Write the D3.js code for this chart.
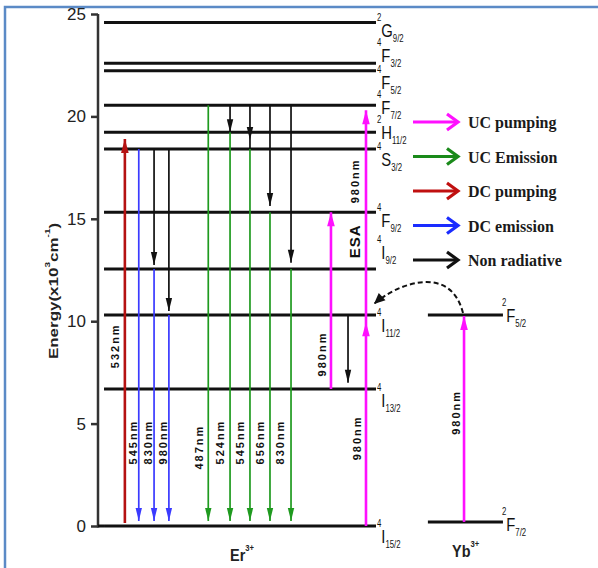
<!DOCTYPE html>
<html>
<head>
<meta charset="utf-8">
<script src="https://cdnjs.cloudflare.com/ajax/libs/d3/7.8.5/d3.min.js"></script>
<style>
  body { margin: 0; background: #fff; }
  svg { display: block; }
</style>
</head>
<body>
<div id="chart"></div>
<script>
// energy levels (x10^3 cm-1)
var erTerms = [["2","G","9/2"],["4","F","3/2"],["4","F","5/2"],["4","F","7/2"],["2","H","11/2"],
               ["4","S","3/2"],["4","F","9/2"],["4","I","9/2"],["4","I","11/2"],["4","I","13/2"],["4","I","15/2"]];
var erEnergy = [24.58, 22.59, 22.23, 20.54, 19.22, 18.41, 15.32, 12.55, 10.30, 6.69, 0];
var ybTerms = [["2","F","5/2"],["2","F","7/2"]];
var ybEnergy = [10.3, 0.2];
var yTicks = [0, 5, 10, 15, 20, 25];

// transitions: [column, from, to, kind, head tip]
var transitions = [
  [2.9, 0.15, 18.9, "dcp"],
  [4.4, 18.41, 0.25, "dce"],
  [6.05, 18.41, 12.75, "nr"],
  [6.05, 12.55, 0.25, "dce"],
  [7.65, 18.41, 10.5, "nr"],
  [7.65, 10.30, 0.25, "dce"],
  [11.9, 20.54, 0.25, "uce"],
  [14.25, 20.54, 19.22, "nr"],
  [14.25, 19.22, 0.25, "uce"],
  [16.4, 20.54, 18.41, "nr", 18.85],
  [16.4, 18.41, 0.25, "uce"],
  [18.56, 20.54, 15.62, "nr"],
  [18.56, 15.32, 0.25, "uce"],
  [20.83, 20.54, 12.85, "nr"],
  [20.83, 12.55, 0.25, "uce"],
  [25.14, 6.69, 15.32, "ucp"],
  [26.98, 10.30, 7.0, "nr"],
  [28.92, 0, 10.3, "ucp", 9.95],
  [28.92, 10.3, 20.3, "ucp"],
  [39.5, 0.2, 10.25, "ucp"]
];

// wavelength labels: [text, column, energy at centre]
var waveLabels = [
  ["532nm", 1.85, 8.8], ["545nm", 3.75, 4.1], ["830nm", 5.4, 4.1], ["980nm", 7.0, 4.1],
  ["487nm", 10.95, 3.85], ["524nm", 13.2, 4.1], ["545nm", 15.35, 4.1], ["656nm", 17.5, 4.1], ["830nm", 19.65, 4.1],
  ["980nm", 24.2, 8.4], ["980nm", 27.95, 4.3], ["980nm", 27.7, 16.85], ["980nm", 38.6, 5.55]
];

var legendNames = ["UC pumping", "UC Emission", "DC pumping", "DC emission", "Non radiative"];
var legendKinds = ["ucp", "uce", "dcp", "dce", "nr"];

var colors = {ucp: "#ff10ff", uce: "#1f9a1f", dcp: "#b51212", dce: "#3a3aff", nr: "#111"};
var legendColors = {ucp: "#ff10ff", uce: "#1a8a1a", dcp: "#c01010", dce: "#1a2cff", nr: "#111"};

// label offsets (px) of the letter top from each level line
var erLabelShift = [0, -15, 4, -5, -7, 3, 1, -24, 3, 4, 3];
var ybLabelShift = [-7, -5];

var W = 598, H = 568;
var svg = d3.select("#chart").append("svg").attr("width", W).attr("height", H);

var y = d3.scaleLinear().domain([0, 25]).range([526, 14]);
var x = d3.scaleLinear().domain([0, 30]).range([98, 376]);

// frame
svg.append("path").attr("d", "M5,568 V7 H598")
  .attr("fill", "none").attr("stroke", "#5b8ac6").attr("stroke-width", 2.5);

// axis
var yAxis = d3.axisLeft(y).tickValues(yTicks).tickSize(7).tickSizeOuter(0).tickPadding(5);
var ag = svg.append("g").attr("transform", "translate(" + x(0) + ",0)").call(yAxis);
ag.select(".domain").attr("stroke", "#333").attr("stroke-width", 2.5)
  .attr("d", "M0," + y(25) + "V" + (y(0) + 1.5));
ag.selectAll(".tick line").attr("stroke", "#333").attr("stroke-width", 2.5);
ag.selectAll(".tick text").attr("font-family", "Arial, 'Liberation Sans', sans-serif")
  .attr("font-size", 17).attr("fill", "#222");

var yl = svg.append("text")
  .attr("transform", "translate(53,291) rotate(-90) scale(1,0.8)")
  .attr("text-anchor", "middle").attr("dominant-baseline", "central")
  .attr("font-family", "Arial, 'Liberation Sans', sans-serif")
  .attr("font-weight", "bold").attr("font-size", 17).attr("fill", "#222");
yl.append("tspan").text("Energy(x10");
yl.append("tspan").attr("font-size", 10).attr("dy", -7).text("3");
yl.append("tspan").attr("dy", 7).text("cm");
yl.append("tspan").attr("font-size", 10).attr("dy", -7).text("-1");
yl.append("tspan").attr("dy", 7).text(")");

// levels
svg.append("line").attr("x1", x(0)).attr("x2", x(0.65)).attr("y1", y(0)).attr("y2", y(0))
  .attr("stroke", "#111").attr("stroke-width", 3);
svg.selectAll(".er").data(erEnergy).join("line")
  .attr("x1", x(0.65)).attr("x2", x(30))
  .attr("y1", function(d) { return y(d); }).attr("y2", function(d) { return y(d); })
  .attr("stroke", "#111").attr("stroke-width", 3);
svg.selectAll(".yb").data(ybEnergy).join("line")
  .attr("x1", x(35.6)).attr("x2", x(43.7))
  .attr("y1", function(d) { return y(d); }).attr("y2", function(d) { return y(d); })
  .attr("stroke", "#111").attr("stroke-width", 3);

function termLabel(px, capTop, t) {
  var tx = svg.append("text")
    .attr("transform", "translate(" + px + "," + capTop + ") scale(0.78,1)")
    .attr("font-family", "Arial, 'Liberation Sans', sans-serif").attr("fill", "#111");
  tx.append("tspan").attr("y", -2).attr("font-size", 10).text(t[0]);
  tx.append("tspan").attr("y", 14).attr("font-size", 19).text(t[1]);
  tx.append("tspan").attr("y", 19).attr("font-size", 10).text(t[2]);
}
erTerms.forEach(function(t, i) { termLabel(x(30) + 1, y(erEnergy[i]) + erLabelShift[i], t); });
ybTerms.forEach(function(t, i) { termLabel(x(43.7) - 1, y(ybEnergy[i]) + ybLabelShift[i], t); });

// arrows
function head(g, cx, tipY, dir, col, hw, len) {
  g.append("path")
    .attr("d", "M" + cx + "," + tipY + "L" + (cx - hw) + "," + (tipY - dir * len) +
               "L" + (cx + hw) + "," + (tipY - dir * len) + "Z")
    .attr("fill", col);
}
transitions.forEach(function(t) {
  var col = colors[t[3]];
  var cx = x(t[0]);
  var big = (t[3] == "ucp" || t[3] == "dcp");
  var sw = big ? 2.6 : 1.7;
  var tipE = t[4] !== undefined ? t[4] : t[2];
  var dir = t[2] < t[1] ? 1 : -1;   // 1 = down
  svg.append("line").attr("x1", cx).attr("x2", cx)
    .attr("y1", y(t[1])).attr("y2", y(t[2]))
    .attr("stroke", col).attr("stroke-width", sw);
  head(svg, cx, y(tipE), dir, col, big ? 3.8 : 3.2, big ? 14 : 13);
});

// energy transfer (dashed)
var p = d3.path();
p.moveTo(x(39.39), y(10.4));
p.bezierCurveTo(x(37.98), y(12.89), x(32.05), y(11.77), x(29.78), y(10.84));
svg.append("path").attr("d", p.toString()).attr("fill", "none")
  .attr("stroke", "#111").attr("stroke-width", 2).attr("stroke-dasharray", "5,3");
(function() {
  var ex = x(29.78), ey = y(10.84);
  var ang = Math.atan2(ey - y(11.77), ex - x(32.05));
  var len = 11, hw = 5;
  var bx = ex - len * Math.cos(ang), by = ey - len * Math.sin(ang);
  var nx = -Math.sin(ang) * hw, ny = Math.cos(ang) * hw;
  svg.append("path").attr("d", "M" + ex + "," + ey + "L" + (bx + nx) + "," + (by + ny) +
                      "L" + (bx - nx) + "," + (by - ny) + "Z").attr("fill", "#111");
})();

// wavelength labels
svg.selectAll(".wl").data(waveLabels).join("text")
  .attr("transform", function(d) { return "translate(" + x(d[1]) + "," + y(d[2]) + ") rotate(-90)"; })
  .attr("text-anchor", "middle").attr("dominant-baseline", "central")
  .attr("font-family", "Arial, 'Liberation Sans', sans-serif")
  .attr("font-weight", "bold").attr("font-size", 11).attr("letter-spacing", 2)
  .attr("fill", "#111").text(function(d) { return d[0]; });

svg.append("text")
  .attr("transform", "translate(" + x(27.7) + "," + y(13.9) + ") rotate(-90)")
  .attr("text-anchor", "middle").attr("dominant-baseline", "central")
  .attr("font-family", "Arial, 'Liberation Sans', sans-serif")
  .attr("font-weight", "bold").attr("font-size", 15).attr("letter-spacing", 1)
  .attr("fill", "#111").text("ESA");

// ion names
function ionLabel(px, py, name) {
  var t = svg.append("text").attr("transform", "translate(" + px + "," + py + ") scale(0.85,1)")
    .attr("font-family", "Arial, 'Liberation Sans', sans-serif").attr("font-weight", "bold")
    .attr("fill", "#222");
  t.append("tspan").attr("font-size", 17).text(name);
  t.append("tspan").attr("font-size", 9).attr("dy", -10).text("3+");
}
ionLabel(230, 561, "Er");
ionLabel(452, 557, "Yb");

// legend
var lg = svg.append("g");
legendNames.forEach(function(name, i) {
  var ly = 122 + i * 34.5;
  var c = legendColors[legendKinds[i]];
  lg.append("line").attr("x1", 413).attr("x2", 457).attr("y1", ly).attr("y2", ly)
    .attr("stroke", c).attr("stroke-width", 3.2);
  lg.append("path").attr("d", "M447," + (ly - 8) + "L458," + ly + "L447," + (ly + 8))
    .attr("fill", "none").attr("stroke", c).attr("stroke-width", 3.2);
  lg.append("text").attr("x", 468).attr("y", ly + 6)
    .attr("font-family", "'Liberation Serif', 'Times New Roman', serif")
    .attr("font-weight", "bold").attr("font-size", 16).attr("fill", "#1a1a1a").text(name);
});
</script>
</body>
</html>
